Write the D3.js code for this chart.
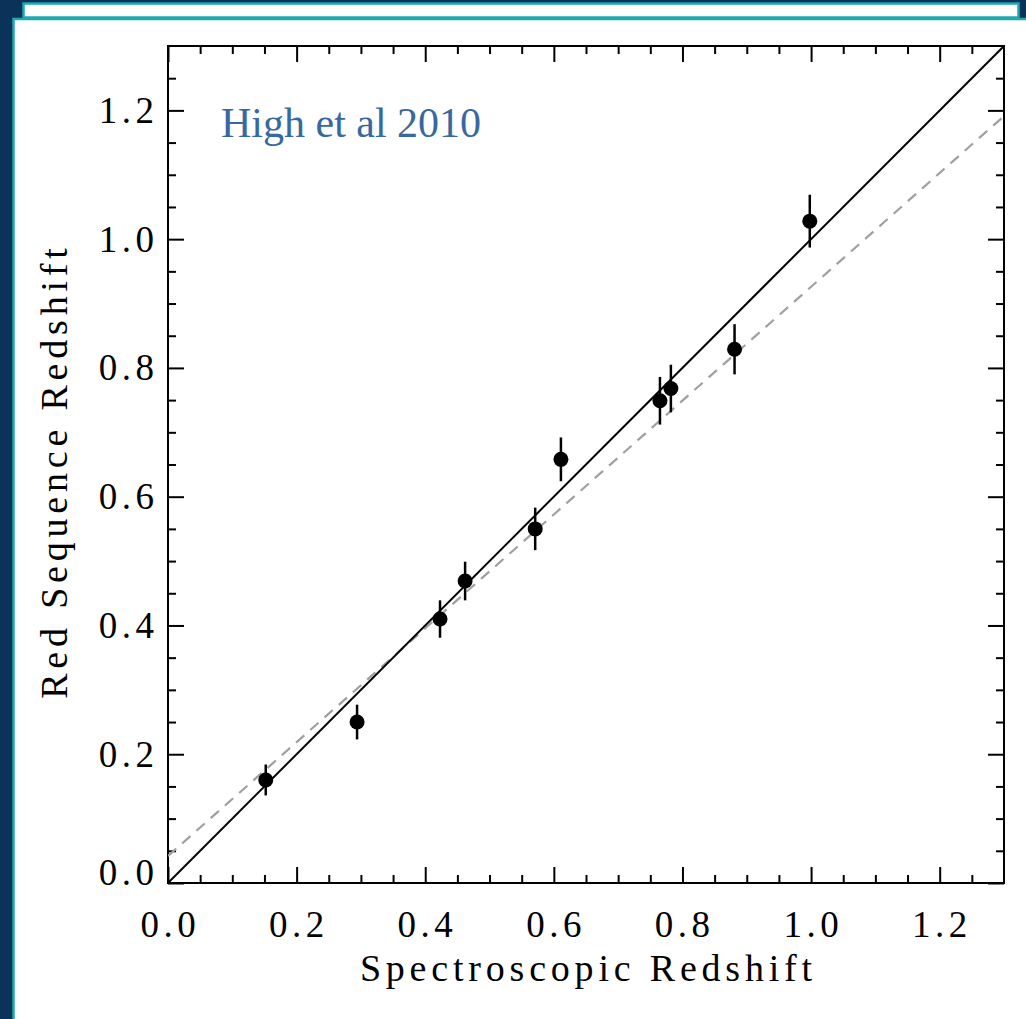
<!DOCTYPE html>
<html>
<head>
<meta charset="utf-8">
<script src="https://cdn.jsdelivr.net/npm/d3@7"></script>
<style>
html,body{margin:0;padding:0;background:#0b3259;}
svg{display:block;}
</style>
</head>
<body>
<svg id="chart" width="1026" height="1019"></svg>
<script>
// ---- data ----
const specZ = [0.152, 0.294, 0.423, 0.462, 0.571, 0.611, 0.765, 0.782, 0.881, 0.998];
const redSeqZ = [0.160, 0.250, 0.410, 0.469, 0.550, 0.658, 0.749, 0.768, 0.829, 1.028];
const redSeqErr = [0.024, 0.027, 0.029, 0.030, 0.033, 0.034, 0.037, 0.037, 0.039, 0.041];
const majorTicks = [0.0, 0.2, 0.4, 0.6, 0.8, 1.0, 1.2];
const tickLabels = ["0.0", "0.2", "0.4", "0.6", "0.8", "1.0", "1.2"];
const minorTicks = [0.05,0.1,0.15,0.25,0.3,0.35,0.45,0.5,0.55,0.65,0.7,0.75,0.85,0.9,0.95,1.05,1.1,1.15,1.25];
const axisDomain = [0, 1.3];
const oneToOne = [0, 1.3];          // y = x line endpoints (x values)
const fitIntercept = [0.042];
const fitSlope = [0.884];
const xTitle = "Spectroscopic Redshift";
const yTitle = "Red Sequence Redshift";
const annotation = "High et al 2010";

// ---- layout ----
const svg = d3.select("#chart");
const L = 168, R = 1004, T = 46, B = 883;
const teal = "#1fa8b2";

// background panels
svg.append("rect").attr("x",0).attr("y",0).attr("width",1026).attr("height",1019).attr("fill","#0b3259");
svg.append("rect").attr("x",23.5).attr("y",3.5).attr("width",995).attr("height",14)
  .attr("fill","#fff").attr("stroke",teal).attr("stroke-width",2.5);
svg.append("rect").attr("x",13.5).attr("y",19).attr("width",1030).attr("height",1030)
  .attr("fill","#fff").attr("stroke",teal).attr("stroke-width",2.5);

const x = d3.scaleLinear().domain(axisDomain).range([L, R]);
const y = d3.scaleLinear().domain(axisDomain).range([B, T]);

const axColor = "#000";
function drawAxis(gen, tx, ty, vals, size){
  const g = svg.append("g").attr("transform",`translate(${tx},${ty})`)
    .call(gen.tickValues(vals).tickSize(size).tickFormat(""));
  g.select(".domain").remove();
  g.selectAll(".tick line").attr("stroke",axColor).attr("stroke-width",2);
}
// major ticks (inward) on all four sides
drawAxis(d3.axisBottom(x), 0, B, majorTicks, -16);
drawAxis(d3.axisTop(x), 0, T, majorTicks, -16);
drawAxis(d3.axisLeft(y), L, 0, majorTicks, -16);
drawAxis(d3.axisRight(y), R, 0, majorTicks, -16);
// minor ticks
drawAxis(d3.axisBottom(x), 0, B, minorTicks, -8);
drawAxis(d3.axisTop(x), 0, T, minorTicks, -8);
drawAxis(d3.axisLeft(y), L, 0, minorTicks, -8);
drawAxis(d3.axisRight(y), R, 0, minorTicks, -8);

// frame
svg.append("rect").attr("x",L).attr("y",T).attr("width",R-L).attr("height",B-T)
  .attr("fill","none").attr("stroke","#000").attr("stroke-width",2);

// clip
svg.append("clipPath").attr("id","clip").append("rect")
  .attr("x",L).attr("y",T).attr("width",R-L).attr("height",B-T);
const plot = svg.append("g").attr("clip-path","url(#clip)");

// dashed fit line
const fitLine = d3.line().x(d=>x(d)).y(d=>y(fitIntercept[0] + fitSlope[0]*d));
plot.append("path").datum(oneToOne).attr("d",fitLine)
  .attr("fill","none").attr("stroke","#a0a0a0").attr("stroke-width",2.2)
  .attr("stroke-dasharray","11,8");

// one-to-one line
const idLine = d3.line().x(d=>x(d)).y(d=>y(d));
plot.append("path").datum(oneToOne).attr("d",idLine)
  .attr("fill","none").attr("stroke","#000").attr("stroke-width",2);

// error bars + points
const pts = specZ.map((v,i)=>({x:v, y:redSeqZ[i], e:redSeqErr[i]}));
plot.selectAll("line.err").data(pts).enter().append("line")
  .attr("x1",d=>x(d.x)).attr("x2",d=>x(d.x))
  .attr("y1",d=>y(d.y - d.e)).attr("y2",d=>y(d.y + d.e))
  .attr("stroke","#000").attr("stroke-width",2.5);
plot.selectAll("circle.pt").data(pts).enter().append("circle")
  .attr("cx",d=>x(d.x)).attr("cy",d=>y(d.y)).attr("r",7.5).attr("fill","#000");

// tick labels
const tf = "'Liberation Serif', serif";
const tls = 4.5;
svg.selectAll("text.xl").data(majorTicks).enter().append("text")
  .attr("x",d=>x(d) + tls/2).attr("y",B+54)
  .attr("text-anchor","middle").attr("font-family",tf).attr("font-size",37)
  .attr("letter-spacing",tls).attr("fill","#000")
  .text((d,i)=>tickLabels[i]);
svg.selectAll("text.yl").data(majorTicks).enter().append("text")
  .attr("x",L - 14 + tls).attr("y",(d,i)=>y(d) + 12.5 - (i===0 ? 11 : 0))
  .attr("text-anchor","end").attr("font-family",tf).attr("font-size",37)
  .attr("letter-spacing",tls).attr("fill","#000")
  .text((d,i)=>tickLabels[i]);

// axis titles
const als = 4.8;
svg.append("text").attr("x",(L+R)/2 + als/2).attr("y",981)
  .attr("text-anchor","middle").attr("font-family",tf).attr("font-size",38)
  .attr("letter-spacing",als).attr("fill","#000").text(xTitle);
svg.append("text").attr("transform",`translate(67,${(T+B)/2 + 9}) rotate(-90)`)
  .attr("x", als/2)
  .attr("text-anchor","middle").attr("font-family",tf).attr("font-size",38)
  .attr("letter-spacing",als).attr("fill","#000").text(yTitle);

// annotation
svg.append("text").attr("x",221).attr("y",137)
  .attr("font-family","'Liberation Serif', 'Times New Roman', serif").attr("font-size",42)
  .attr("fill","#3868a0").text(annotation);
</script>
</body>
</html>
